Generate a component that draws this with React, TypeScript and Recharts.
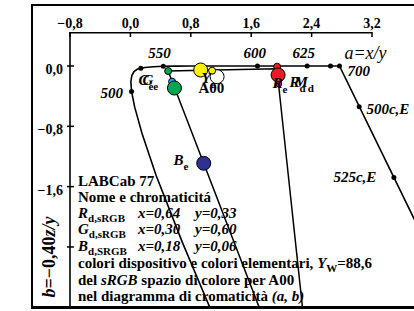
import React from 'react';
import { ScatterChart, Scatter, XAxis, YAxis, ReferenceLine } from 'recharts';

const FONT = '"Liberation Serif", "Times New Roman", serif';

const xTicks = [-0.8, 0, 0.8, 1.6, 2.4, 3.2];
const xTickLabels = ['−0,8', '0,0', '0,8', '1,6', '2,4', '3,2'];
const yTicks = [0, -0.8, -1.6, -2.4];
const yTickLabels = ['0,0', '−0,8', '−1,6', ''];

// spectral locus in (a, b), 475 nm ... 700 nm, then the purple line
const locus = [
  { a: 1.263, b: -3.703 }, { a: 0.688, b: -2.339 }, { a: 0.342, b: -1.456 },
  { a: 0.154, b: -0.894 }, { a: 0.057, b: -0.546 }, { a: 0.015, b: -0.337 },
  { a: 0.006, b: -0.209 }, { a: 0.019, b: -0.126 }, { a: 0.048, b: -0.073 },
  { a: 0.089, b: -0.044 }, { a: 0.138, b: -0.029 }, { a: 0.192, b: -0.02 },
  { a: 0.304, b: -0.009 }, { a: 0.436, b: -0.004 }, { a: 0.597, b: -0.002 },
  { a: 0.8, b: -0.001 }, { a: 1.053, b: 0 }, { a: 1.356, b: 0 },
  { a: 1.683, b: 0 }, { a: 2.341, b: 0 }, { a: 2.65, b: 0 },
  { a: 2.769, b: 0 }, { a: 4.72, b: -4.0 },
];

// device gamut triangle R -> G -> B -> R
const gamut = [
  { a: 1.94, b: -0.036 }, { a: 0.5, b: -0.067 }, { a: 2.5, b: -5.267 }, { a: 1.94, b: -0.036 },
];

// wavelength marks on locus and purple line
const locusMarks = [
  { a: 0.015, b: -0.337 }, { a: 0.138, b: -0.029 }, { a: 0.436, b: -0.004 },
  { a: 1.683, b: 0 }, { a: 2.341, b: 0 }, { a: 2.65, b: 0 }, { a: 2.769, b: 0 },
  { a: 3.03, b: -0.54 }, { a: 3.49, b: -1.48 },
];

const greenDevice = [{ a: 0.5, b: -0.067 }];
const cyanElem = [{ a: 0.552, b: -0.208 }];
const greenElem = [{ a: 0.583, b: -0.292 }];
const yellowElem = [{ a: 0.931, b: -0.053 }];
const yellowDevice = [{ a: 1.082, b: -0.062 }];
const whiteA00 = [{ a: 1.148, b: -0.142 }];
const redDevice = [{ a: 1.943, b: -0.009 }];
const magentaDevice = [{ a: 1.964, b: -0.239 }];
const redElem = [{ a: 1.956, b: -0.119 }];
const blueElem = [{ a: 0.971, b: -1.29 }];

const wavelengthLabels = [
  { a: 0.238, b: 0.106, t: '550' },
  { a: 1.497, b: 0.106, t: '600' },
  { a: 2.146, b: 0.106, t: '625' },
  { a: 2.874, b: -0.133, t: '700' },
  { a: -0.397, b: -0.424, t: '500' },
  { a: 3.126, b: -0.637, t: '500c,E' },
  { a: 2.689, b: -1.538, t: '525c,E' },
];

const axisNameLabel = [{ a: 2.834, b: 0.093, t: 'a=x/y' }];

const pointLabels = [
  { a: 0.106, b: -0.252, t: 'C', s: 'e' },
  { a: 0.159, b: -0.252, t: 'G', s: 'e' },
  { a: 0.94, b: -0.225, t: 'Y', s: 'e' },
  { a: 1.881, b: -0.292, t: 'R', s: 'e' },
  { a: 2.106, b: -0.279, t: 'R', s: 'd' },
  { a: 2.172, b: -0.279, t: 'M', s: 'd' },
  { a: 0.57, b: -1.313, t: 'B', s: 'e' },
];
const plainLabels = [{ a: 0.901, b: -0.358, t: 'A00' }];

const COLORS = {
  green: '#00a651',
  cyan: '#00aeef',
  yellow: '#fff200',
  red: '#ed1c24',
  magenta: '#ec008c',
  blue: '#2e3192',
  white: '#ffffff',
};

const XTick = (props: any) => {
  const { x, y, payload } = props;
  const i = xTicks.indexOf(payload.value);
  return (
    <g>
      <line x1={x} x2={x} y1={y} y2={y + 5} stroke="#000" strokeWidth={1.5} />
      <text x={x} y={y - 4} textAnchor="middle" fontFamily={FONT} fontWeight="bold" fontSize={14} fill="#000">
        {xTickLabels[i]}
      </text>
    </g>
  );
};

const YTick = (props: any) => {
  const { x, y, payload } = props;
  const i = yTicks.indexOf(payload.value);
  return (
    <g>
      <line x1={x - 3} x2={x + 4} y1={y} y2={y} stroke="#000" strokeWidth={1.5} />
      <text x={x - 7} y={y + 8} textAnchor="end" fontFamily={FONT} fontWeight="bold" fontSize={14} fill="#000">
        {yTickLabels[i]}
      </text>
    </g>
  );
};

const none = () => <g />;
const dot = (r: number, fill: string, sw = 1) => (p: any) => (
  <circle cx={p.cx} cy={p.cy} r={r} fill={fill} stroke="#000" strokeWidth={sw} />
);
const label = (size: number, italic: boolean, bold: boolean, subSize = 11, subDy = 5) => (p: any) => (
  <text
    x={p.cx}
    y={p.cy}
    fontFamily={FONT}
    fontSize={size}
    fontStyle={italic ? 'italic' : 'normal'}
    fontWeight={bold ? 'bold' : 'normal'}
    fill="#000"
  >
    {p.payload.t}
    {p.payload.s ? (
      <tspan dy={subDy} fontSize={subSize} fontStyle="normal">
        {p.payload.s}
      </tspan>
    ) : null}
  </text>
);

const T = { fontFamily: FONT, fontWeight: 'bold' as const, fontSize: 15, fill: '#000' };

export default function App() {
  return (
    <div style={{ position: 'fixed', left: 0, top: 0, width: 414, height: 311, overflow: 'hidden', background: '#fff' }}>
      <ScatterChart width={414} height={311} margin={{ top: 0, right: 0, bottom: 3, left: 0 }}>
        <XAxis
          type="number"
          dataKey="a"
          orientation="top"
          domain={[-0.8, 3.756]}
          allowDataOverflow
          ticks={xTicks}
          interval={0}
          height={32}
          axisLine={false}
          tickLine={false}
          tickSize={0}
          tickMargin={0}
          tick={<XTick />}
        />
        <YAxis
          type="number"
          dataKey="b"
          domain={[-3.2096, 0.4509]}
          allowDataOverflow
          ticks={yTicks}
          interval={0}
          width={70}
          axisLine={{ stroke: '#000', strokeWidth: 1.6 }}
          tickLine={false}
          tickSize={0}
          tickMargin={0}
          tick={<YTick />}
        />
        <ReferenceLine
          segment={[{ x: -0.8, y: 0.4403 }, { x: 3.2, y: 0.4403 }]}
          stroke="#000"
          strokeWidth={1.6}
          ifOverflow="visible"
        />
        <Scatter data={locus} line={{ stroke: '#000', strokeWidth: 1.6 }} lineType="joint" shape={none} isAnimationActive={false} />
        <Scatter data={gamut} line={{ stroke: '#000', strokeWidth: 1.5 }} lineType="joint" shape={none} isAnimationActive={false} />
        <Scatter data={locusMarks} shape={dot(2.5, '#000', 0)} isAnimationActive={false} />
        <Scatter data={greenDevice} shape={dot(3.5, COLORS.green)} isAnimationActive={false} />
        <Scatter data={cyanElem} shape={dot(3.5, COLORS.cyan)} isAnimationActive={false} />
        <Scatter data={greenElem} shape={dot(7, COLORS.green)} isAnimationActive={false} />
        <Scatter data={yellowElem} shape={dot(7, COLORS.yellow)} isAnimationActive={false} />
        <Scatter data={whiteA00} shape={dot(7, COLORS.white)} isAnimationActive={false} />
        <Scatter data={yellowDevice} shape={dot(3.5, COLORS.yellow)} isAnimationActive={false} />
        <Scatter data={redDevice} shape={dot(3.5, COLORS.red)} isAnimationActive={false} />
        <Scatter data={magentaDevice} shape={dot(3, COLORS.magenta)} isAnimationActive={false} />
        <Scatter data={redElem} shape={dot(7, COLORS.red)} isAnimationActive={false} />
        <Scatter data={blueElem} shape={dot(7, COLORS.blue)} isAnimationActive={false} />
        <Scatter data={wavelengthLabels} shape={label(15, true, true)} isAnimationActive={false} />
        <Scatter data={axisNameLabel} shape={label(18, true, false)} isAnimationActive={false} />
        <Scatter data={pointLabels} shape={label(15, true, true, 11, 5)} isAnimationActive={false} />
        <Scatter data={plainLabels} shape={label(15, false, true)} isAnimationActive={false} />
      </ScatterChart>
      <svg width={414} height={311} style={{ position: 'absolute', left: 0, top: 0, pointerEvents: 'none' }}>
        <line x1={32} x2={32} y1={4} y2={309} stroke="#000" strokeWidth={2} />
        <line x1={31} x2={414} y1={5} y2={5} stroke="#000" strokeWidth={2} />
        <line x1={31} x2={414} y1={307.5} y2={307.5} stroke="#000" strokeWidth={3} />
        <text {...T} transform="translate(55,257) rotate(-90)" textAnchor="middle" fontSize={18}>
          <tspan fontStyle="italic">b</tspan>=−0,40<tspan fontStyle="italic">z/y</tspan>
        </text>
        <text {...T} x={78} y={186}>LABCab 77</text>
        <text {...T} x={78} y={202}>Nome e chromaticitá</text>
        <text {...T} x={78} y={218}>
          <tspan fontStyle="italic">R</tspan><tspan fontSize={11} dy={4}>d,sRGB</tspan>
        </text>
        <text {...T} x={138} y={218} fontStyle="italic">x=0,64</text>
        <text {...T} x={195} y={218} fontStyle="italic">y=0,33</text>
        <text {...T} x={78} y={234}>
          <tspan fontStyle="italic">G</tspan><tspan fontSize={11} dy={4}>d,sRGB</tspan>
        </text>
        <text {...T} x={138} y={234} fontStyle="italic">x=0,30</text>
        <text {...T} x={195} y={234} fontStyle="italic">y=0,60</text>
        <text {...T} x={78} y={251}>
          <tspan fontStyle="italic">B</tspan><tspan fontSize={11} dy={4}>d,SRGB</tspan>
        </text>
        <text {...T} x={138} y={251} fontStyle="italic">x=0,18</text>
        <text {...T} x={195} y={251} fontStyle="italic">y=0,06</text>
        <text {...T} x={78} y={268}>
          colori dispositivo e colori elementari, <tspan fontStyle="italic">Y</tspan>
          <tspan fontSize={11} dy={4}>W</tspan>
          <tspan dy={-4}>=88,6</tspan>
        </text>
        <text {...T} x={78} y={285}>
          del <tspan fontStyle="italic">sRGB</tspan> spazio di colore per A00
        </text>
        <text {...T} x={78} y={301}>
          nel diagramma di cromaticità <tspan fontStyle="italic">(a, b)</tspan>
        </text>
      </svg>
    </div>
  );
}
